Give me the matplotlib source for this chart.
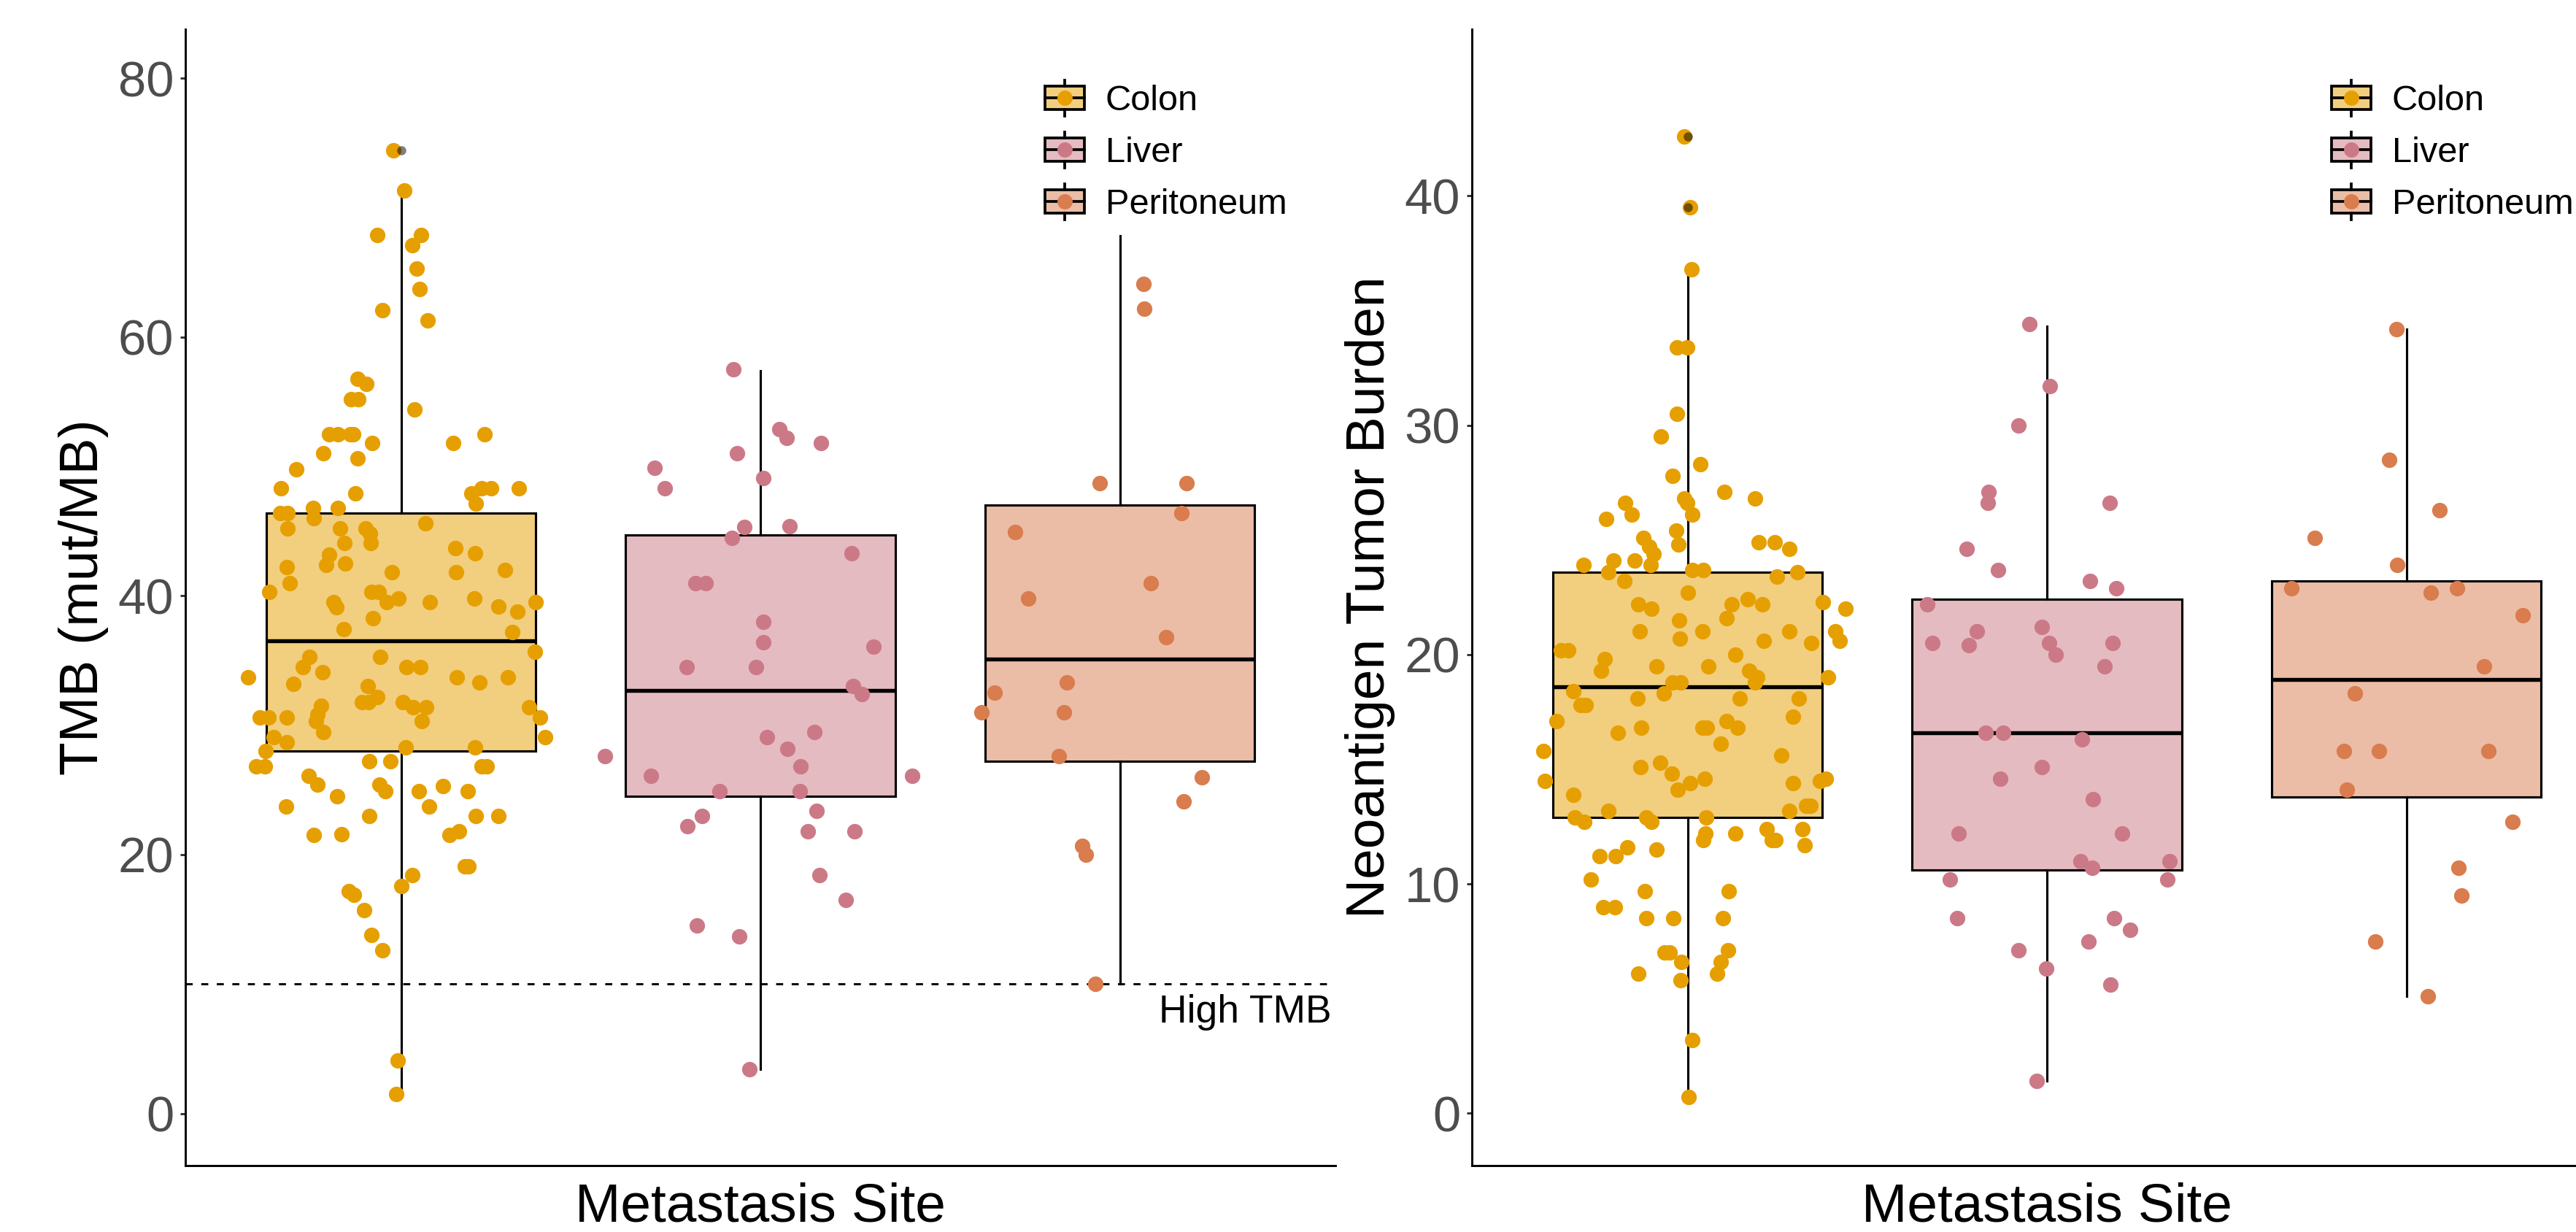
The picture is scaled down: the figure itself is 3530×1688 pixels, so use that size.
import matplotlib
matplotlib.use("Agg")
import matplotlib.pyplot as plt
from matplotlib.patches import Rectangle, Patch
from matplotlib.lines import Line2D
from matplotlib.legend_handler import HandlerBase
from matplotlib.colors import to_rgba
import numpy as np

plt.rcParams['font.family'] = ['Liberation Sans', 'DejaVu Sans']

# ---------------- data ----------------
categories = ["Colon", "Liver", "Peritoneum"]
colors = ["#E69F00", "#CC7987", "#D97C4E"]

tmb_colon = [74.4, 71.3, 67.9, 67.9, 67.1, 65.3, 63.7, 62.1, 61.3, 56.8,
             56.4, 55.2, 55.2, 54.4, 52.5, 52.5, 52.5, 52.5, 51.8, 51.8,
             52.5, 51.0, 50.6, 49.8, 48.3, 47.9, 47.9, 48.3, 48.3, 48.3,
             47.1, 46.4, 46.4, 46.8, 46.8, 46.0, 45.2, 45.2, 45.2, 44.8,
             45.6, 44.1, 44.1, 43.7, 43.3, 43.2, 42.4, 42.5, 42.2, 41.8,
             41.8, 42.0, 41.0, 40.3, 40.3, 40.3, 39.5, 39.1, 39.5, 39.8,
             39.5, 39.8, 39.2, 38.8, 39.5, 38.3, 37.4, 37.2, 35.7, 35.3,
             35.3, 34.5, 34.1, 33.7, 33.2, 34.5, 34.5, 33.7, 33.3, 33.7,
             33.0, 32.2, 31.8, 31.8, 31.8, 31.4, 31.4, 30.3, 31.4, 30.6,
             29.1, 30.6, 30.6, 30.6, 31.5, 30.8, 30.3, 29.5, 29.1, 28.7,
             28.0, 28.3, 28.3, 26.8, 26.8, 27.2, 27.2, 26.8, 26.8, 26.1,
             25.4, 24.5, 25.4, 24.9, 24.9, 25.3, 24.9, 23.7, 23.0, 23.7,
             23.0, 23.0, 21.5, 21.6, 21.5, 21.8, 19.1, 19.1, 18.4, 17.6,
             17.2, 16.9, 15.7, 13.8, 12.6, 4.1, 1.5]
tmb_colon_jit = [-0.021, 0.010, -0.067, 0.055, 0.031, 0.044, 0.052, -0.052, 0.074, -0.121,
                 -0.096, -0.139, -0.119, 0.037, -0.199, -0.176, -0.142, -0.133, -0.080, 0.145,
                 0.233, -0.216, -0.121, -0.292, -0.335, -0.127, 0.195, 0.224, 0.250, 0.327,
                 0.209, -0.337, -0.315, -0.245, -0.176, -0.243, -0.316, -0.170, -0.099, -0.087,
                 0.069, -0.157, -0.084, 0.151, 0.207, -0.199, -0.208, -0.155, -0.318, -0.026,
                 0.153, 0.289, -0.309, -0.367, -0.082, -0.062, -0.188, -0.179, -0.040, -0.008,
                 0.080, 0.205, 0.271, 0.323, 0.375, -0.079, -0.159, 0.309, 0.373, -0.058,
                 -0.255, -0.273, -0.218, -0.425, -0.299, 0.016, 0.053, 0.155, 0.219, 0.298,
                 -0.093, -0.067, -0.109, -0.091, 0.005, 0.034, 0.071, 0.058, 0.356, 0.387,
                 0.402, -0.393, -0.369, -0.317, -0.223, -0.233, -0.236, -0.217, -0.355, -0.317,
                 -0.377, 0.013, 0.207, -0.404, -0.379, -0.088, -0.029, 0.224, 0.239, -0.256,
                 -0.232, -0.178, -0.059, -0.043, 0.049, 0.117, 0.186, -0.320, -0.089, 0.078,
                 0.209, 0.272, -0.242, -0.166, 0.136, 0.161, 0.178, 0.187, 0.031, 0.002,
                 -0.145, -0.131, -0.102, -0.082, -0.052, -0.009, -0.013]

tmb_liver = [57.5, 52.9, 52.2, 51.8, 51.0, 49.9, 48.3, 49.1, 45.3, 45.4,
             44.5, 43.3, 41.0, 41.0, 38.0, 36.4, 36.1, 34.5, 34.5, 33.0,
             32.4, 29.5, 29.1, 28.2, 27.6, 26.8, 26.1, 26.1, 24.9, 24.9,
             23.0, 22.2, 23.4, 21.8, 21.8, 18.4, 16.5, 14.5, 13.7, 3.4]
tmb_liver_jit = [-0.076, 0.053, 0.073, 0.169, -0.065, -0.295, -0.265, 0.008, -0.044, 0.082,
                 -0.080, 0.253, -0.180, -0.153, 0.008, 0.008, 0.314, -0.206, -0.013, 0.257,
                 0.282, 0.151, 0.019, 0.075, -0.432, 0.112, -0.305, 0.423, -0.113, 0.109,
                 -0.162, -0.204, 0.157, 0.131, 0.261, 0.165, 0.237, -0.177, -0.059, -0.031]

tmb_perit = [64.1, 62.2, 48.7, 48.7, 46.4, 44.9, 39.8, 41.0, 36.8, 33.3,
             32.5, 31.0, 31.0, 27.6, 26.0, 24.1, 20.7, 20.0, 10.0]
tmb_perit_jit = [0.065, 0.068, -0.055, 0.186, 0.172, -0.291, -0.255, 0.086, 0.128, -0.148,
                 -0.348, -0.385, -0.155, -0.169, 0.229, 0.178, -0.104, -0.094, -0.068]

neo_colon = [42.6, 39.5, 36.8, 33.4, 33.4, 30.5, 29.5, 28.3, 27.8, 27.1,
             26.8, 26.8, 26.6, 26.1, 26.6, 26.1, 25.9, 25.4, 24.8, 25.1,
             24.7, 24.4, 24.9, 24.9, 24.6, 23.9, 24.1, 24.1, 23.9, 23.6,
             23.7, 23.7, 23.4, 23.6, 23.2,
             22.7, 22.2, 22.0, 22.2, 22.4, 22.2, 22.3, 22.0, 21.5, 21.6,
             21.0, 20.7, 21.0, 20.6, 21.0, 20.5, 21.0, 20.6, 20.2, 20.2,
             19.8, 19.3, 19.5, 19.5, 20.0, 19.3, 19.0, 18.8, 19.0, 18.8,
             18.8, 18.4, 17.8, 17.8, 18.1, 18.3, 18.1, 18.1, 17.3, 17.1,
             16.6, 16.8, 16.8, 16.8, 17.1, 16.8, 16.1, 15.8, 15.6, 15.3,
             15.1, 14.8, 14.5, 14.4, 14.6, 14.1, 14.4, 14.5, 14.6, 13.9,
             13.4, 13.4, 13.2, 13.2, 12.9, 12.7, 12.9, 12.7, 12.9, 12.2,
             11.9, 12.2, 12.4, 11.9, 11.9, 12.4, 11.7, 11.6, 11.2, 11.2,
             11.5, 10.2, 9.7, 9.7, 9.0, 9.0, 8.5, 8.5, 8.5, 7.0,
             7.0, 7.1, 6.6, 6.6, 6.1, 6.1, 5.8, 3.2, 0.7]
neo_colon_jit = [-0.010, 0.007, 0.012, -0.029, -0.001, -0.029, -0.074, 0.035, -0.041, 0.103,
                 0.187, -0.010, -0.002, 0.013, -0.174, -0.155, -0.227, -0.032, -0.025, -0.123,
                 -0.107, -0.095, 0.198, 0.242, 0.283, -0.290, -0.206, -0.147, -0.103, -0.220,
                 0.013, 0.044, 0.249, 0.306, -0.176,
                 0.000, -0.137, -0.100, 0.122, 0.167, 0.208, 0.377, 0.440, -0.023, 0.108,
                 -0.133, -0.022, 0.041, 0.213, 0.283, 0.344, 0.411, 0.423, -0.352, -0.332,
                 -0.231, -0.241, -0.087, 0.057, 0.133, 0.172, 0.193, 0.187, 0.391, -0.041,
                 -0.019, -0.317, -0.298, -0.284, -0.139, -0.066, 0.146, 0.310, 0.294, -0.365,
                 -0.194, -0.129, 0.041, 0.053, 0.108, 0.139, 0.093, -0.401, 0.260, -0.077,
                 -0.130, -0.043, -0.396, 0.007, 0.048, -0.028, 0.293, 0.368, 0.385, -0.317,
                 0.330, 0.342, 0.283, -0.221, -0.313, -0.288, -0.114, -0.101, 0.051, 0.049,
                 0.043, 0.132, 0.220, 0.234, 0.245, 0.319, 0.325, -0.168, -0.245, -0.199,
                 -0.087, -0.270, -0.118, 0.114, -0.234, -0.202, -0.114, -0.039, 0.099, -0.064,
                 -0.049, 0.113, -0.018, 0.093, 0.083, -0.137, -0.020, 0.013, 0.003]

neo_liver = [34.4, 31.7, 30.0, 27.1, 26.6, 26.6, 24.6, 23.7, 23.2, 22.9,
             22.2, 21.0, 21.2, 20.5, 20.4, 20.5, 20.0, 20.5, 19.5, 16.6,
             16.6, 16.3, 15.1, 14.6, 13.7, 12.2, 12.2, 11.0, 10.7, 11.0,
             10.2, 10.2, 8.5, 8.5, 8.0, 7.5, 7.1, 6.3, 5.6, 1.4]
neo_liver_jit = [-0.048, 0.008, -0.079, -0.163, -0.165, 0.174, -0.224, -0.137, 0.120, 0.192,
                 -0.332, -0.194, -0.014, -0.318, -0.218, 0.007, 0.025, 0.182, 0.161, -0.170,
                 -0.121, 0.097, -0.014, -0.129, 0.127, -0.246, 0.209, 0.093, 0.126, 0.341,
                 -0.270, 0.336, -0.250, 0.187, 0.232, 0.116, -0.080, -0.003, 0.176, -0.028]

neo_perit = [34.2, 28.5, 26.3, 25.1, 23.9, 22.9, 22.7, 22.9, 21.7, 19.5,
             18.3, 15.8, 15.8, 15.8, 14.1, 12.7, 10.7, 9.5, 7.5, 5.1]
neo_perit_jit = [-0.027, -0.048, 0.093, -0.254, -0.026, -0.319, 0.068, 0.142, 0.324, 0.216,
                 -0.143, -0.174, -0.077, 0.229, -0.165, 0.296, 0.145, 0.153, -0.086, 0.059]

# box summaries: whisker low, Q1, median, Q3, whisker high
tmb_whislo = [1.5, 3.4, 10.0]
tmb_q1 = [28.0, 24.5, 27.2]
tmb_med = [36.5, 32.7, 35.1]
tmb_q3 = [46.4, 44.7, 47.0]
tmb_whishi = [71.3, 57.4, 67.8]
tmb_fliers = [[74.4], [], []]

neo_whislo = [0.7, 1.4, 5.1]
neo_q1 = [12.9, 10.6, 13.8]
neo_med = [18.6, 16.6, 18.9]
neo_q3 = [23.6, 22.4, 23.2]
neo_whishi = [36.8, 34.3, 34.2]
neo_fliers = [[42.6, 39.5], [], []]

high_tmb_threshold = 10

# ---------------- figure ----------------
W, H, DPI = 3530, 1688, 300
fig = plt.figure(figsize=(W / DPI, H / DPI), dpi=DPI)

ax_w = 1576 / W
ax_h = (1596.5 - 39.8) / H
ax_b = (H - 1596.5) / H
ax1 = fig.add_axes([254 / W, ax_b, ax_w, ax_h])
ax2 = fig.add_axes([2017 / W, ax_b, ax_w, ax_h])

PT_SIZE = 26
LW = 0.75


class BoxHandler(HandlerBase):
    def __init__(self, color):
        super().__init__()
        self.color = color

    def create_artists(self, legend, orig_handle, xdescent, ydescent, width, height, fontsize, trans):
        x0 = -xdescent
        y0 = -ydescent
        cx = x0 + width / 2
        bh = height * 0.65
        by0 = y0 + (height - bh) / 2
        rect = Rectangle((x0, by0), width, bh, facecolor=to_rgba(self.color, 0.5),
                         edgecolor='black', lw=0.9, transform=trans)
        w1 = Line2D([cx, cx], [y0, by0], color='black', lw=0.9, transform=trans)
        w2 = Line2D([cx, cx], [by0 + bh, y0 + height], color='black', lw=0.9, transform=trans)
        med = Line2D([x0, x0 + width], [y0 + height / 2] * 2, color='black', lw=0.9, transform=trans)
        pt = Line2D([cx], [y0 + height / 2], marker='o', ms=5.0, color=self.color,
                    markeredgewidth=0, ls='none', transform=trans)
        return [rect, w1, w2, med, pt]


def panel(ax, vals, jits, whislo, q1, med, q3, whishi, fliers, ylim, yticks, ylabel):
    pos = np.arange(1, len(categories) + 1)
    stats = []
    for i in range(len(categories)):
        stats.append(dict(whislo=whislo[i], q1=q1[i], med=med[i], q3=q3[i],
                          whishi=whishi[i], fliers=fliers[i], label=categories[i]))
    bp = ax.bxp(stats, positions=pos, widths=0.75, patch_artist=True,
                showcaps=False, showfliers=True,
                boxprops=dict(edgecolor='black', linewidth=LW),
                whiskerprops=dict(color='black', linewidth=LW),
                medianprops=dict(color='black', linewidth=1.3),
                flierprops=dict(marker='o', markerfacecolor='black', markeredgewidth=0,
                                markersize=3.0, alpha=0.5))
    for patch, c in zip(bp['boxes'], colors):
        patch.set_facecolor(to_rgba(c, 0.5))
    for fl in bp['fliers']:
        fl.set_zorder(5)
    for i, (v, j) in enumerate(zip(vals, jits)):
        ax.scatter(pos[i] + np.asarray(j), v, s=PT_SIZE, color=colors[i],
                   linewidths=0, zorder=4)
    ax.set_xlim(0.4, 3.6)
    ax.set_ylim(*ylim)
    ax.set_yticks(yticks)
    ax.set_xticks([])
    for s in ['top', 'right']:
        ax.spines[s].set_visible(False)
    for s in ['left', 'bottom']:
        ax.spines[s].set_linewidth(0.7)
        ax.spines[s].set_color('black')
    ax.tick_params(axis='y', labelsize=16.5, labelcolor='#4D4D4D', color='#333333',
                   length=1.8, width=0.7, pad=2)
    ax.set_ylabel(ylabel, fontsize=18, labelpad=3)
    ax.set_xlabel("Metastasis Site", fontsize=18, labelpad=5.5)
    handles = [Patch(label=c) for c in categories]
    hmap = {h: BoxHandler(c) for h, c in zip(handles, colors)}
    ax.legend(handles=handles, handler_map=hmap, loc='upper left',
              bbox_to_anchor=(0.7475, 0.955), frameon=False, fontsize=11.7,
              borderpad=0, borderaxespad=0, handlelength=1.1, handleheight=1.17,
              labelspacing=0.41, handletextpad=0.6)


panel(ax1, [tmb_colon, tmb_liver, tmb_perit], [tmb_colon_jit, tmb_liver_jit, tmb_perit_jit],
      tmb_whislo, tmb_q1, tmb_med, tmb_q3, tmb_whishi, tmb_fliers,
      (-4.0, 83.8), [0, 20, 40, 60, 80], "TMB (mut/MB)")
panel(ax2, [neo_colon, neo_liver, neo_perit], [neo_colon_jit, neo_liver_jit, neo_perit_jit],
      neo_whislo, neo_q1, neo_med, neo_q3, neo_whishi, neo_fliers,
      (-2.26, 47.27), [0, 10, 20, 30, 40], "Neoantigen Tumor Burden")

ax1.axhline(high_tmb_threshold, color='black', lw=0.7, linestyle=(0, (3.3, 4.0)), zorder=3)
ax1.text(3.59, 7.0, "High TMB", ha='right', va='baseline', fontsize=12.8)

fig.savefig("out.png", dpi=DPI)
